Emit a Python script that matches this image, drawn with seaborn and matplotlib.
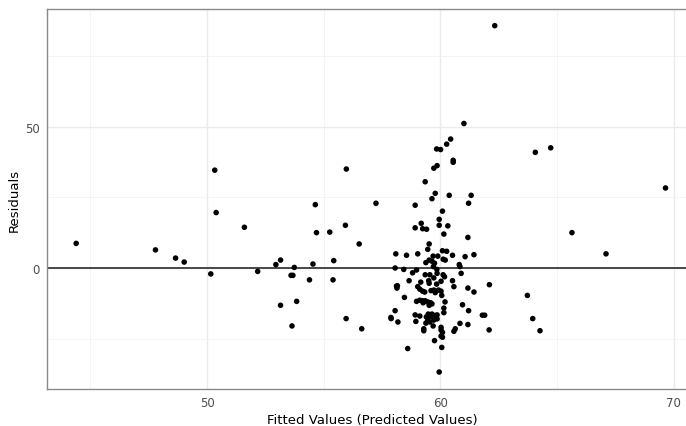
import pandas as pd
import matplotlib.pyplot as plt
import seaborn as sns

# fitted values and residuals
fitted = [
    44.39, 47.79, 48.65, 49.02, 50.16, 50.33, 50.39, 51.60, 52.17, 52.95,
    53.15, 53.15, 53.74, 53.60, 53.68, 53.84, 53.64, 54.39, 54.54, 54.64,
    54.69, 55.26, 55.43, 55.40, 55.93, 55.97, 55.96, 56.52, 56.63, 57.24,
    57.89,
    58.06, 58.09, 58.43, 58.55, 58.66, 58.12, 58.14, 58.46, 58.06, 58.18,
    58.60, 58.92, 58.92, 59.03, 58.81, 58.98, 58.92, 59.12, 58.95, 59.03,
    59.12, 59.24, 59.33, 59.18, 59.24, 59.41, 59.35, 59.52, 59.46, 59.64,
    59.78, 59.72, 59.86, 59.84, 60.01, 60.27, 60.44, 61.01, 60.55, 60.55,
    62.33, 64.07, 64.73, 60.09, 59.95, 59.95, 60.32, 60.15, 60.38, 61.32,
    61.21, 61.18, 60.09, 60.27, 59.69, 59.89, 60.52, 61.06, 61.44, 59.52,
    59.64, 59.38, 59.75, 60.12, 60.21, 60.81, 60.84, 59.35, 59.55, 59.52,
    59.72, 59.86, 60.12, 60.18, 60.03, 59.84, 59.70, 59.85, 59.72, 59.92,
    60.03, 59.78, 60.06, 58.98, 59.12, 59.24, 59.35, 59.46, 59.58, 59.64,
    59.52, 59.26, 60.20, 60.15, 60.15, 60.95, 61.21, 59.48, 59.64, 59.86,
    59.46, 59.58, 59.78, 59.72, 59.46, 59.55, 59.86, 59.38, 59.29, 59.29,
    59.69, 60.03, 60.03, 59.75, 60.03, 60.06, 59.95, 60.52, 60.58, 60.89,
    61.18, 61.44, 60.84, 60.64, 60.58, 61.18, 61.80, 61.90, 62.09, 62.10,
    63.73, 63.96, 64.27, 65.64, 67.10, 69.65, 59.16, 59.50, 58.16, 57.88,
    60.09, 60.09, 59.40, 59.60,
]
residuals = [
    8.7, 6.4, 3.5, 2.1, -2.1, 34.6, 19.6, 14.4, -1.2, 1.2,
    2.8, -13.2, 0.2, -2.6, -2.6, -11.8, -20.5, -4.2, 1.4, 22.4,
    12.5, 12.7, 2.6, -4.2, 15.1, 35.0, -17.9, 8.5, -21.5, 22.9,
    -17.9,
    0.0, 5.0, -0.5, 4.5, -4.5, -6.4, -7.1, -10.4, -15.1, -19.1,
    -28.5, 22.2, 14.2, 5.0, -1.7, -0.7, -16.6, -17.0, -18.9, -6.6,
    -7.5, -8.2, -8.5, 15.8, 13.9, 13.7, 30.5, 8.5, 6.6, 24.5,
    26.4, 35.3, 36.2, 42.1, 41.9, 43.8, 45.6, 51.1, 38.1, 37.4,
    85.7, 40.9, 42.5, 20.1, 17.2, 15.1, 14.9, 12.0, 25.7, 25.7,
    22.9, 10.8, 6.1, 5.9, 4.2, 4.2, 4.5, 4.0, 4.7, 2.8,
    2.4, 1.9, 1.7, 3.1, 2.8, 1.2, 0.5, -2.4, -2.4, -5.4,
    -3.5, -1.9, -2.4, -3.1, -4.7, -5.7, 0.5, -0.5, -7.8, -7.8,
    -8.2, -8.7, -9.7, -11.8, -11.4, -11.6, -11.6, -12.0, -12.3, -12.7,
    -13.2, -12.3, -12.0, -14.2, -15.8, -13.0, -15.1, -16.3, -16.3, -16.6,
    -17.7, -17.2, -16.8, -18.4, -18.6, -19.1, -18.0, -19.5, -21.5, -22.2,
    -20.5, -21.0, -21.9, -25.7, -24.1, -28.1, -36.8, -4.5, -6.6, -1.9,
    -7.1, -8.5, -19.6, -21.5, -22.4, -20.0, -16.7, -16.7, -21.9, -5.9,
    -9.7, -17.9, -22.2, 12.5, 5.0, 28.3, -5.0, -4.5, -6.3, -17.5,
    -22.8, -24.5, -17.3, -8.0,
]

df = pd.DataFrame({'fitted': fitted, 'resid': residuals})

sns.set_style('white')
fig = plt.figure(figsize=(6.86, 4.27), dpi=100)
# right side of the panel is cropped off like in the reference
ax = fig.add_axes([47 / 686, 1 - 390 / 427, 650 / 686, 380 / 427])

# grid like ggplot theme_bw
for v in [45, 55, 65]:
    ax.axvline(v, color='#f2f2f2', lw=0.6, zorder=0)
for v in [50, 60, 70]:
    ax.axvline(v, color='#ebebeb', lw=1.0, zorder=0)
for v in [-25, 25, 75]:
    ax.axhline(v, color='#f2f2f2', lw=0.6, zorder=0)
for v in [0, 50]:
    ax.axhline(v, color='#ebebeb', lw=1.0, zorder=0)

sns.scatterplot(data=df, x='fitted', y='resid', color='black', s=16,
                edgecolor='none', ax=ax, zorder=3)
ax.axhline(0, color='#3a3a3a', lw=1.3, zorder=2)

ax.set_xlim(43.14, 71.0)
ax.set_ylim(-42.8, 91.6)
ax.set_xticks([50, 60, 70])
ax.set_yticks([0, 50])
ax.tick_params(axis='both', colors='#4d4d4d', labelsize=8.5, length=3,
               width=0.8, direction='out', pad=2)
for s in ax.spines.values():
    s.set_color('#8a8a8a')
    s.set_linewidth(1.0)

ax.set_xlabel('Fitted Values (Predicted Values)', fontsize=9.5, color='black', labelpad=3)
ax.set_ylabel('Residuals', fontsize=9.5, color='black', labelpad=3)

fig.savefig('out.png', dpi=100)
